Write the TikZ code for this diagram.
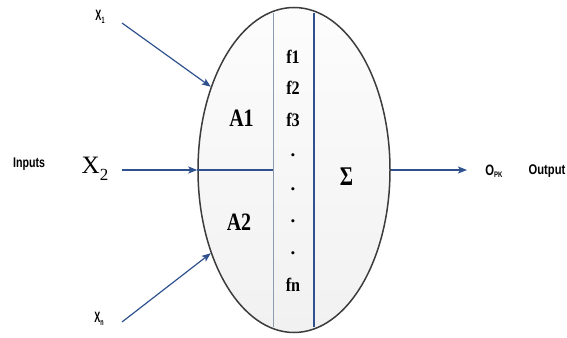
\documentclass[tikz,border=0pt]{standalone}
\usepackage{fontspec}
\usepackage{graphicx}
\setmainfont{Liberation Serif}
\newfontfamily\lsans{Liberation Sans}
\usetikzlibrary{shapes.geometric,arrows.meta}
\definecolor{linkblue}{RGB}{47,82,143}
\definecolor{divgray}{RGB}{140,155,175}
\definecolor{rimgray}{RGB}{60,60,60}
\begin{document}
\begin{tikzpicture}[x=1pt,y=1pt,
  conn/.style={draw=linkblue, line width=1.2pt, -{Stealth[length=9pt,width=7pt,inset=2pt]}},
  divline/.style={draw=linkblue, line width=1.1pt},
  graydiv/.style={draw=divgray, line width=1pt},
  bigserif/.style={font=\fontsize{25}{25}\selectfont\bfseries, inner sep=0},
  fserif/.style={font=\fontsize{19}{19}\selectfont\bfseries, inner sep=0},
  smallsans/.style={font=\lsans\bfseries\fontsize{14}{14}\selectfont, inner sep=0},
  tinysans/.style={font=\lsans\bfseries\fontsize{15}{15}\selectfont, inner sep=0},
]
\useasboundingbox (0,0) rectangle (567,337);
% ellipse body
\node[ellipse, draw=rimgray, line width=1.5pt, top color=gray!2, bottom color=gray!11,
      minimum width=192pt, minimum height=325pt, inner sep=0] (E) at (294,167) {};
% internal division lines
\coordinate (gt) at (273,324);
\coordinate (gb) at (273,10);
\coordinate (bt) at (314,324);
\coordinate (bb) at (314,10);
\coordinate (hm) at (273,167);
\draw[graydiv] (gt) -- (gb);
\draw[divline] (bt) -- (bb);
\draw[divline] (E.west) -- (hm);
% labels inside
\node[bigserif] (A1) at (241.5,219) {\scalebox{0.8}[1]{A1}};
\node[bigserif] (A2) at (239,115) {\scalebox{0.8}[1]{A2}};
\node[fserif] (f1) at (293,280) {\scalebox{0.85}[1]{f1}};
\node[fserif] (f2) at (293,249) {\scalebox{0.85}[1]{f2}};
\node[fserif] (f3) at (293,217) {\scalebox{0.85}[1]{f3}};
\node[fserif] (d1) at (293,182) {.};
\node[fserif] (d2) at (293,148) {.};
\node[fserif] (d3) at (293,116) {.};
\node[fserif] (d4) at (293,84) {.};
\node[fserif] (fn) at (293,52) {\scalebox{0.85}[1]{fn}};
\node[font=\fontsize{27}{27}\selectfont\bfseries, inner sep=0] (sig) at (346.5,160) {\scalebox{0.75}[1]{Σ}};
% inputs
\node[smallsans] (inp) at (29,173) {\scalebox{0.76}[1]{Inputs}};
\node[font=\fontsize{25}{25}\selectfont, inner sep=0] (x2) at (95,168) {X\raisebox{-7pt}{\fontsize{17}{17}\selectfont 2}};
\node[tinysans] (x1) at (100,320) {\scalebox{0.6}[1]{X\raisebox{-3pt}{\fontsize{9}{9}\selectfont 1}}};
\node[tinysans] (xn) at (99,18) {\scalebox{0.6}[1]{X\raisebox{-3pt}{\fontsize{9}{9}\selectfont n}}};
\coordinate (s1) at (122,314);
\coordinate (s2) at (122,167);
\coordinate (sn) at (122,15);
\draw[conn] (s1) -- (E.135);
\draw[conn] (s2) -- (E.west);
\draw[conn] (sn) -- (E.225);
% output
\node[font=\lsans\bfseries\fontsize{15}{15}\selectfont, inner sep=0] (opk) at (494,166) {\scalebox{0.75}[1]{O\raisebox{-2pt}{\fontsize{8}{8}\selectfont PK}}};
\node[smallsans] (out) at (547,166) {\scalebox{0.8}[1]{Output}};
\coordinate (oe) at (467,167);
\draw[conn] (E.east) -- (oe);
\end{tikzpicture}
\end{document}
